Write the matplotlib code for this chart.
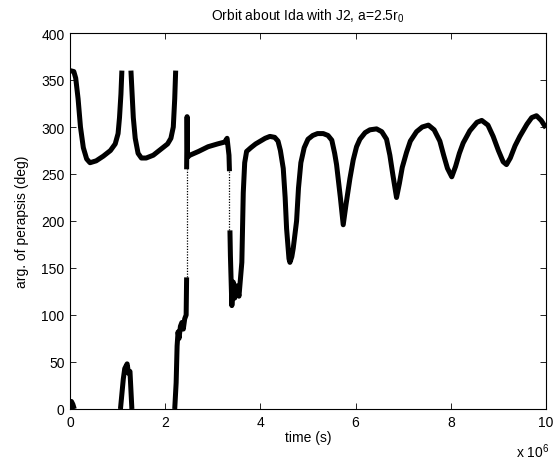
import matplotlib
matplotlib.use("Agg")
import matplotlib.pyplot as plt
import numpy as np

plt.rcParams["font.family"] = ["Liberation Sans", "DejaVu Sans"]
plt.rcParams["mathtext.fontset"] = "custom"
plt.rcParams["mathtext.rm"] = "Liberation Sans"
plt.rcParams["mathtext.default"] = "regular"

# time in units of 1e6 s, argument of periapsis in deg
# each segment is a stretch of curve between angle wraps
t_seg0 = [0.0, 0.03, 0.06, 0.09]
w_seg0 = [0, 8, 5, 0]

t_seg1 = [0.0, 0.08, 0.12, 0.17, 0.22, 0.28, 0.35, 0.42, 0.55, 0.7, 0.85,
          0.95, 1.01, 1.04, 1.07, 1.09]
w_seg1 = [360, 359, 352, 330, 300, 278, 266, 262, 264, 269, 275,
          282, 293, 310, 335, 360]

t_seg2 = [1.06, 1.12, 1.15, 1.2, 1.23, 1.26, 1.30]
w_seg2 = [0, 32, 43, 48, 38, 40, 0]

t_seg3 = [1.28, 1.3, 1.33, 1.37, 1.43, 1.5, 1.6, 1.75, 1.9, 2.05, 2.12,
          2.17, 2.2, 2.22]
w_seg3 = [360, 340, 310, 288, 272, 267, 267, 270, 276, 282, 288,
          300, 330, 360]

t_seg4 = [2.2, 2.23, 2.25, 2.27, 2.29, 2.32, 2.35, 2.38, 2.41, 2.44, 2.45]
w_seg4 = [0, 28, 67, 82, 75, 88, 92, 85, 96, 100, 140]

t_seg5 = [2.45, 2.46, 2.47, 2.52, 2.7, 2.9, 3.1, 3.25, 3.3, 3.34, 3.35]
w_seg5 = [255, 311, 268, 270, 274, 279, 282, 284, 288, 270, 253]

t_seg6 = [3.36, 3.37, 3.4, 3.43, 3.46, 3.5, 3.55, 3.61, 3.64, 3.67,
          3.71, 3.8, 3.9, 4.0, 4.1, 4.2, 4.3, 4.37, 4.42, 4.48,
          4.52, 4.55, 4.6, 4.62, 4.66, 4.69, 4.76, 4.8, 4.85, 4.92,
          5.0, 5.1, 5.2, 5.32, 5.42, 5.5, 5.56, 5.6, 5.68, 5.74,
          5.8, 5.88, 5.95, 6.02, 6.09, 6.2, 6.3, 6.44, 6.55, 6.65,
          6.72, 6.78, 6.86, 6.92, 6.98, 7.07, 7.15, 7.28, 7.4, 7.53,
          7.65, 7.77, 7.85, 7.93, 8.02, 8.1, 8.18, 8.26, 8.4, 8.55,
          8.65, 8.78, 8.89, 9.0, 9.1, 9.17, 9.25, 9.35, 9.45, 9.6,
          9.7, 9.8, 9.9, 10.0]
w_seg6 = [190, 163, 110, 135, 118, 131, 120, 156, 230, 262,
          274, 278, 282, 285, 288, 290, 289, 285, 275, 256,
          225, 192, 160, 156, 162, 171, 200, 235, 262, 278,
          287, 291, 293, 293, 291, 286, 272, 260, 225, 196,
          218, 245, 265, 279, 287, 294, 297, 298, 295, 287,
          270, 250, 225, 240, 257, 273, 285, 295, 300, 302,
          297, 285, 270, 256, 247, 258, 272, 283, 296, 305,
          307, 302, 290, 275, 263, 260, 267, 280, 290, 303,
          310, 312, 307, 299]

# sparse jumps drawn as dots
t_jump1 = [2.45, 2.45]
w_jump1 = [140, 255]
t_jump2 = [3.35, 3.35]
w_jump2 = [253, 189]

fig = plt.figure(figsize=(5.6, 4.64), dpi=100)
ax = fig.add_axes([70 / 560, 1 - 410 / 464, 476 / 560, 376 / 464])

segments = [(t_seg0, w_seg0), (t_seg1, w_seg1), (t_seg2, w_seg2), (t_seg3, w_seg3),
            (t_seg4, w_seg4), (t_seg5, w_seg5), (t_seg6, w_seg6)]
for t, w in segments:
    ax.plot(t, w, color="black", lw=3.6, solid_joinstyle="round",
            solid_capstyle="butt")

for t, w in [(t_jump1, w_jump1), (t_jump2, w_jump2)]:
    ax.plot(t, w, color="black", lw=0.9, linestyle=(0, (1, 1.2)))

ax.set_xlim(0, 10)
ax.set_ylim(0, 400)
ax.set_xticks(np.arange(0, 11, 2))
ax.set_yticks(np.arange(0, 401, 50))
ax.tick_params(direction="in", top=True, right=True, length=4, width=0.6,
               labelsize=10, pad=4)
for s in ax.spines.values():
    s.set_linewidth(0.8)

ax.set_xlabel("time (s)", fontsize=10, labelpad=1)
ax.set_ylabel("arg. of perapsis (deg)", fontsize=10, labelpad=9)
ax.set_title(r"Orbit about Ida with J2, a=2.5r$_0$", fontsize=10, pad=10)
ax.text(1.008, -0.112, r"x 10$^6$", transform=ax.transAxes, ha="right",
        va="center", fontsize=10)

fig.savefig("out.png", dpi=100)
